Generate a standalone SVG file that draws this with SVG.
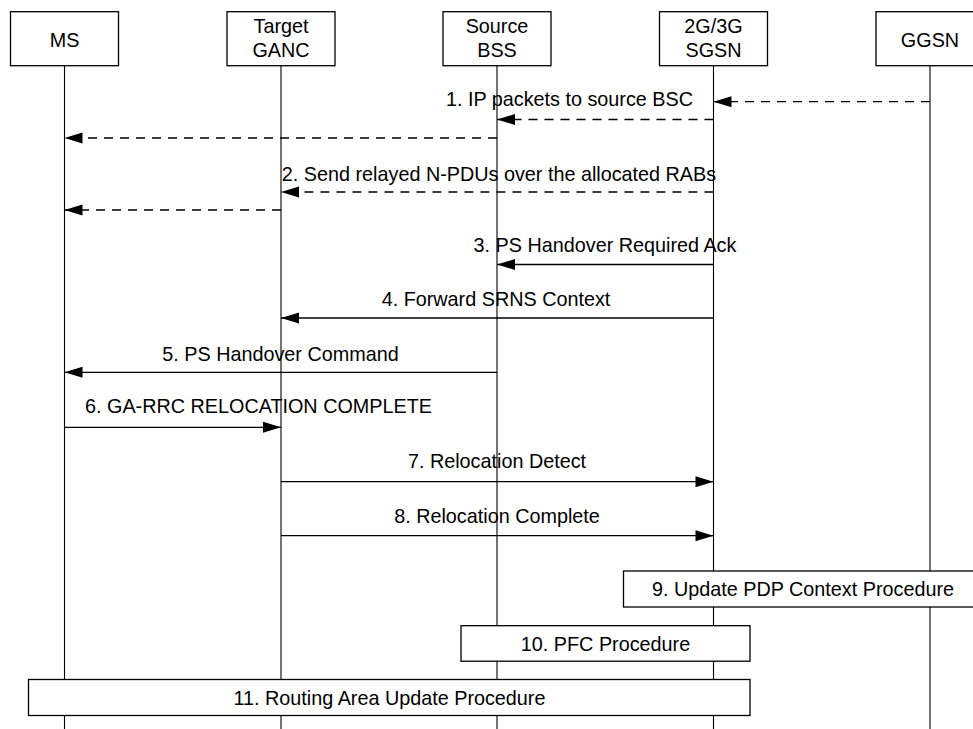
<svg xmlns="http://www.w3.org/2000/svg" width="973" height="729" viewBox="0 0 973 729">
<style>
text{font-family:"Liberation Sans",Arial,sans-serif;font-size:19.8px;fill:#000}
.c{text-anchor:middle}
.box{fill:#fff;stroke:#000;stroke-width:1.3}
.life{stroke:#000;stroke-width:1.1;fill:none}
.msg{stroke:#000;stroke-width:1.3;fill:none;marker-end:url(#ah)}
.dash{stroke-dasharray:9 7}
</style>
<defs>
<marker id="ah" markerUnits="userSpaceOnUse" markerWidth="19" markerHeight="12" refX="18" refY="5.5" orient="auto" overflow="visible">
<path d="M0,0 L18,5.5 L0,11 Z" fill="#000" stroke="none"/>
</marker>
</defs>
<rect width="973" height="729" fill="#fff"/>
<g id="node-ms">
<line class="life" x1="64.5" y1="65.7" x2="64.5" y2="729"/>
<rect class="box" x="10.5" y="11.7" width="108" height="54"/>
<text class="c" x="64.5" y="47">MS</text>
</g>
<g id="node-target-ganc">
<line class="life" x1="281" y1="65.7" x2="281" y2="729"/>
<rect class="box" x="227" y="11.7" width="108" height="54"/>
<text class="c" x="281" y="33.3">Target</text>
<text class="c" x="281" y="57.3">GANC</text>
</g>
<g id="node-source-bss">
<line class="life" x1="497" y1="65.7" x2="497" y2="729"/>
<rect class="box" x="443" y="11.7" width="108" height="54"/>
<text class="c" x="497" y="33.3">Source</text>
<text class="c" x="497" y="57.3">BSS</text>
</g>
<g id="node-sgsn">
<line class="life" x1="713.5" y1="65.7" x2="713.5" y2="729"/>
<rect class="box" x="659.5" y="11.7" width="108" height="54"/>
<text class="c" x="713.5" y="33.3">2G/3G</text>
<text class="c" x="713.5" y="57.3">SGSN</text>
</g>
<g id="node-ggsn">
<line class="life" x1="930" y1="65.7" x2="930" y2="729"/>
<rect class="box" x="876" y="11.7" width="108" height="54"/>
<text class="c" x="930" y="47">GGSN</text>
</g>
<g id="connectors">
<line class="msg dash" x1="930" y1="101.7" x2="713.5" y2="101.7"/>
<line class="msg dash" x1="713.5" y1="119.5" x2="497" y2="119.5"/>
<line class="msg dash" x1="497" y1="138" x2="64.5" y2="138"/>
<line class="msg dash" x1="713.5" y1="192" x2="281" y2="192"/>
<line class="msg dash" x1="281" y1="210" x2="64.5" y2="210"/>
<line class="msg" x1="713.5" y1="264.5" x2="497" y2="264.5"/>
<line class="msg" x1="713.5" y1="318" x2="281" y2="318"/>
<line class="msg" x1="497" y1="372.3" x2="64.5" y2="372.3"/>
<line class="msg" x1="64.5" y1="427.3" x2="281" y2="427.3"/>
<line class="msg" x1="281" y1="481.7" x2="713.5" y2="481.7"/>
<line class="msg" x1="281" y1="535.7" x2="713.5" y2="535.7"/>
</g>
<g id="labels">
<text class="c" x="569.5" y="106">1. IP packets to source BSC</text>
<text class="c" x="499" y="180.7">2. Send relayed N-PDUs over the allocated RABs</text>
<text class="c" x="605" y="252.3">3. PS Handover Required Ack</text>
<text class="c" x="496" y="305.7">4. Forward SRNS Context</text>
<text class="c" x="280.5" y="360.7">5. PS Handover Command</text>
<text x="85" y="413.3">6. GA-RRC RELOCATION COMPLETE</text>
<text class="c" x="497" y="468.3">7. Relocation Detect</text>
<text class="c" x="497" y="522.7">8. Relocation Complete</text>
</g>
<g id="node-step9">
<rect class="box" x="623.5" y="571" width="360" height="36"/>
<text class="c" x="803" y="596">9. Update PDP Context Procedure</text>
</g>
<g id="node-step10">
<rect class="box" x="461" y="625.7" width="289" height="35.5"/>
<text class="c" x="605.5" y="650.5">10. PFC Procedure</text>
</g>
<g id="node-step11">
<rect class="box" x="28.5" y="679.5" width="721.5" height="36"/>
<text class="c" x="389.5" y="704.5">11. Routing Area Update Procedure</text>
</g>
</svg>
